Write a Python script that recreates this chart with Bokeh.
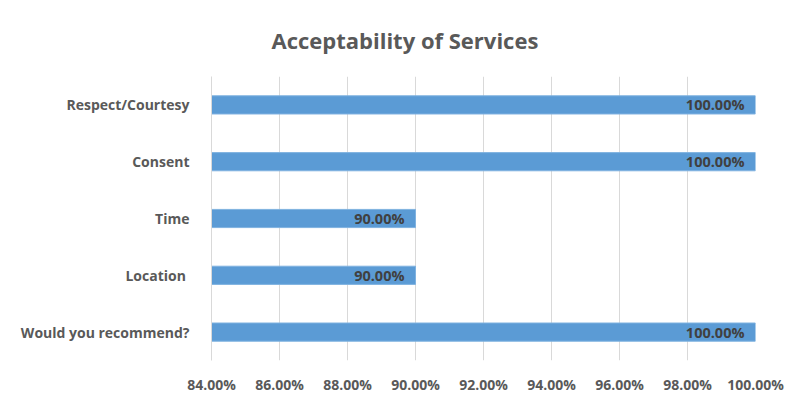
from bokeh.plotting import figure
from bokeh.models import ColumnDataSource, FactorRange, NumeralTickFormatter, FixedTicker, Range1d
from bokeh.core.properties import value
from bokeh.embed import file_html
from bokeh.resources import INLINE

categories = ["Respect/Courtesy", "Consent", "Time", "Location ", "Would you recommend?"]
values = [1.00, 1.00, 0.90, 0.90, 1.00]
labels = ["100.00%", "100.00%", "90.00%", "90.00%", "100.00%"]
x_ticks = [0.84, 0.86, 0.88, 0.90, 0.92, 0.94, 0.96, 0.98, 1.00]
title_text = "Acceptability of Services"

FONT = "Open Sans"
GREY = "#595959"

src = ColumnDataSource(dict(cat=categories, val=values, lab=labels))

p = figure(width=795, height=396, output_backend="svg", toolbar_location=None,
           y_range=FactorRange(*reversed(categories)),
           x_range=Range1d(0.84, 1.00),
           min_border_left=211, min_border_right=40, min_border_top=75, min_border_bottom=31)
p.outline_line_color = None
p.background_fill_color = "white"
p.border_fill_color = "white"

p.title.text = title_text
p.title.text_font = FONT
p.title.text_font_size = "22px"
p.title.text_font_style = "bold"
p.title.text_color = GREY
p.title.align = "left"
p.title.offset = 60
p.title.standoff = 44

p.hbar(y="cat", left=0.84, right="val", height=0.32, source=src,
       fill_color="#5B9BD5", line_color="#7FB2E0", line_width=1)
p.text(x="val", y="cat", text="lab", source=src, x_offset=-11,
       text_align="right", text_baseline="middle", text_font=value(FONT),
       text_font_size="14.5px", text_font_style="bold", text_color="#404040")

p.xaxis.ticker = FixedTicker(ticks=x_ticks)
p.xaxis.formatter = NumeralTickFormatter(format="0.00%")
p.xaxis.axis_line_color = None
p.xaxis.major_tick_line_color = None
p.xaxis.minor_tick_line_color = None
p.xaxis.major_label_text_font = FONT
p.xaxis.major_label_text_font_size = "14px"
p.xaxis.major_label_text_font_style = "bold"
p.xaxis.major_label_text_color = GREY
p.xaxis.major_label_standoff = 8

p.yaxis.axis_line_color = "#D9D9D9"
p.yaxis.major_tick_line_color = None
p.yaxis.minor_tick_line_color = None
p.yaxis.major_label_text_font = FONT
p.yaxis.major_label_text_font_size = "14px"
p.yaxis.major_label_text_font_style = "bold"
p.yaxis.major_label_text_color = GREY
p.yaxis.major_label_standoff = 16

p.xgrid.ticker = FixedTicker(ticks=x_ticks)
p.xgrid.grid_line_color = "#D9D9D9"
p.ygrid.grid_line_color = None

open("out.html", "w").write(file_html(p, INLINE))
